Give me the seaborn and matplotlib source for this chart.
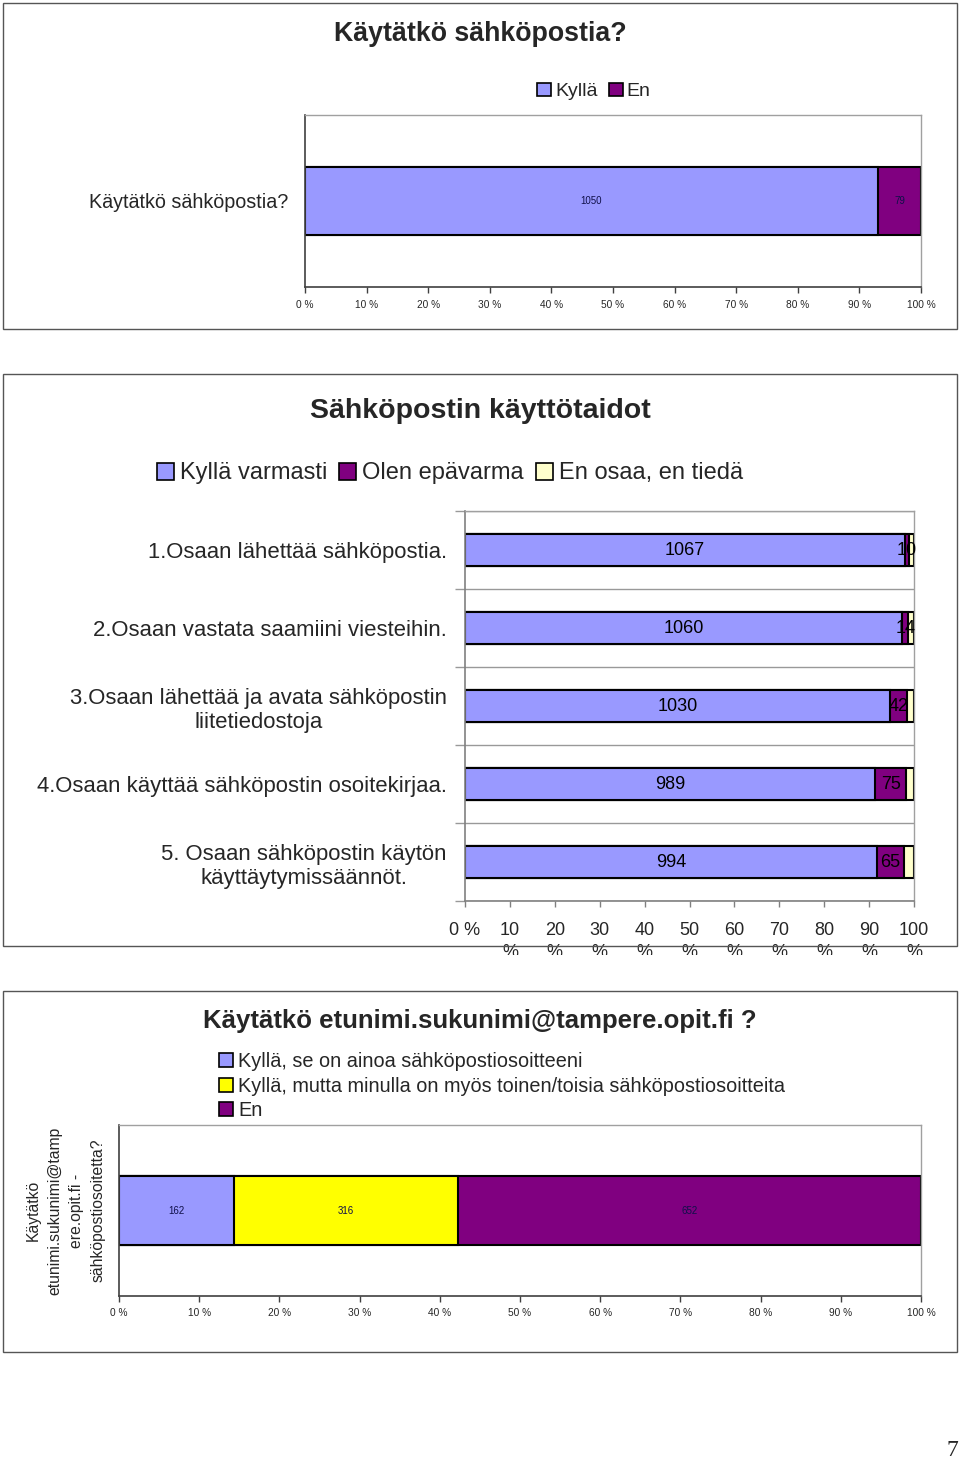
import numpy as np
import pandas as pd
import matplotlib
matplotlib.use('Agg')
import matplotlib.pyplot as plt
import seaborn as sns
from matplotlib.patches import Patch, Rectangle

sns.set_theme(style='white')
plt.rcParams['font.family'] = ['Liberation Sans', 'DejaVu Sans']

# ---------------- data ----------------
# Chart 1
q1_title = 'Käytätkö sähköpostia?'
q1_categories = ['Käytätkö sähköpostia?']
q1_series = ['Kyllä', 'En']
q1_kylla = [1050]
q1_en = [79]

# Chart 2
q2_title = 'Sähköpostin käyttötaidot'
q2_categories = ['1.Osaan lähettää sähköpostia.',
                 '2.Osaan vastata saamiini viesteihin.',
                 '3.Osaan lähettää ja avata sähköpostin\nliitetiedostoja',
                 '4.Osaan käyttää sähköpostin osoitekirjaa.',
                 '5. Osaan sähköpostin käytön\nkäyttäytymissäännöt.']
q2_series = ['Kyllä varmasti', 'Olen epävarma', 'En osaa, en tiedä']
q2_varmasti = [1067, 1060, 1030, 989, 994]
q2_epavarma = [10, 14, 42, 75, 65]
q2_en_osaa = [12, 14, 16, 19, 25]

# Chart 3
q3_title = 'Käytätkö etunimi.sukunimi@tampere.opit.fi ?'
q3_categories = ['Käytätkö\netunimi.sukunimi@tamp\nere.opit.fi -\nsähköpostiosoitetta?']
q3_series = ['Kyllä, se on ainoa sähköpostiosoitteeni',
             'Kyllä, mutta minulla on myös toinen/toisia sähköpostiosoitteita',
             'En']
q3_ainoa = [162]
q3_myos_toinen = [316]
q3_en = [652]

pct_ticks = [0, 10, 20, 30, 40, 50, 60, 70, 80, 90, 100]
pct_labels_small = [f'{t} %' for t in pct_ticks]
pct_labels_wrapped = ['0 %'] + [f'{t}\n%' for t in pct_ticks[1:]]

# ---------------- style ----------------
BLUE = '#9999FF'
PURPLE = '#800080'
LIGHTYELLOW = '#FFFFCC'
YELLOW = '#FFFF00'

W, H = 960, 1463
fig = plt.figure(figsize=(W / 100, H / 100), dpi=100)


def fx(px):
    return px / W


def fy(py):
    return 1 - py / H


def add_axes(x0, y0, x1, y1):
    return fig.add_axes([fx(x0), fy(y1), fx(x1 - x0), (y1 - y0) / H])


def stacked(ax, cats, series_vals, colors, width=0.4, lw=1.5):
    vals = np.array(series_vals, dtype=float)
    tot = vals.sum(axis=0)
    pct = vals / tot * 100
    cum = np.cumsum(pct, axis=0)
    for i in range(len(vals) - 1, -1, -1):
        df = pd.DataFrame({'cat': cats, 'v': cum[i]})
        sns.barplot(data=df, x='v', y='cat', order=cats, orient='h',
                    color=colors[i], saturation=1, width=width,
                    edgecolor='black', linewidth=lw, errorbar=None, ax=ax)
    return vals, pct, cum


def style_axes(ax, dark, light):
    for s in ['left', 'bottom']:
        ax.spines[s].set_color(dark)
        ax.spines[s].set_linewidth(1.2)
    for s in ['top', 'right']:
        ax.spines[s].set_color(light)
        ax.spines[s].set_linewidth(1.0)
    ax.set_xlim(0, 100)
    ax.set_xlabel('')
    ax.set_ylabel('')


def panel_border(x0, y0, x1, y1):
    fig.patches.append(Rectangle((fx(x0), fy(y1)), fx(x1 - x0), (y1 - y0) / H,
                                 transform=fig.transFigure, fill=False,
                                 edgecolor='#555555', linewidth=1.0, zorder=5))


# ---------------- panel 1 ----------------
panel_border(3, 3, 957, 329)
fig.text(0.5, fy(34), q1_title, ha='center', va='center',
         fontsize=19.3, fontweight='bold')
ax1 = add_axes(305, 115, 921, 287)
vals, pct, cum = stacked(ax1, q1_categories, [q1_kylla, q1_en], [BLUE, PURPLE])
style_axes(ax1, '#404040', '#a0a0a0')
ax1.set_xticks(pct_ticks)
ax1.set_xticklabels(pct_labels_small, fontsize=7.3)
ax1.tick_params(axis='x', length=4, width=1, color='#404040', pad=5, bottom=True)
ax1.tick_params(axis='y', length=0, pad=12, labelsize=14.2)
for i in range(vals.shape[0]):
    for j in range(vals.shape[1]):
        ax1.text(cum[i, j] - pct[i, j] / 2, j, f'{int(vals[i, j])}',
                 ha='center', va='center', fontsize=7, color='#10104a')
fig.legend(handles=[Patch(facecolor=c, edgecolor='black', linewidth=1.2) for c in [BLUE, PURPLE]],
           labels=q1_series, loc='center', bbox_to_anchor=(fx(594), fy(91.5)), ncol=2,
           frameon=False, fontsize=14, handlelength=0.7, handleheight=0.7,
           handletextpad=0.2, columnspacing=0.6, borderaxespad=0, borderpad=0)

# ---------------- panel 2 ----------------
panel_border(3, 374, 957, 946)
fig.text(fx(480), fy(411), q2_title, ha='center', va='center',
         fontsize=20.5, fontweight='bold')
ax2 = add_axes(465, 511, 914, 901)
vals, pct, cum = stacked(ax2, q2_categories, [q2_varmasti, q2_epavarma, q2_en_osaa],
                         [BLUE, PURPLE, LIGHTYELLOW])
style_axes(ax2, '#808080', '#a0a0a0')
ax2.set_xticks(pct_ticks)
ax2.set_xticklabels(pct_labels_wrapped, fontsize=13, linespacing=1.4)
ax2.tick_params(axis='x', length=4, width=1, color='#808080', pad=11, bottom=True)
ax2.set_yticks(np.arange(-0.5, len(q2_categories)), minor=True)
ax2.tick_params(axis='y', which='minor', length=7, width=1, color='#999999', left=True)
ax2.tick_params(axis='y', which='major', length=0, pad=13, labelsize=15.9)
for lbl in ax2.get_yticklabels():
    lbl.set_multialignment('center')
ax2.grid(True, axis='y', which='minor', color='#999999', linewidth=1.0)
ax2.set_axisbelow(True)
for i in range(2):
    for j in range(vals.shape[1]):
        ax2.text(cum[i, j] - pct[i, j] / 2, j, f'{int(vals[i, j])}',
                 ha='center', va='center', fontsize=13, color='black')
fig.legend(handles=[Patch(facecolor=c, edgecolor='black', linewidth=1.2)
                    for c in [BLUE, PURPLE, LIGHTYELLOW]],
           labels=q2_series, loc='center', bbox_to_anchor=(fx(450), fy(473.5)), ncol=3,
           frameon=False, fontsize=17, handlelength=0.72, handleheight=0.72,
           handletextpad=0.25, columnspacing=0.5, borderaxespad=0, borderpad=0)
# clip the overflowing tick labels below the panel as in the original
fig.patches.append(Rectangle((0, fy(988)), 1, (988 - 955) / H, transform=fig.transFigure,
                             facecolor='white', edgecolor='none', zorder=4))

# ---------------- panel 3 ----------------
panel_border(3, 991, 957, 1352)
fig.text(fx(480), fy(1021), q3_title, ha='center', va='center',
         fontsize=18.5, fontweight='bold')
ax3 = add_axes(119, 1125, 921, 1296)
vals, pct, cum = stacked(ax3, q3_categories, [q3_ainoa, q3_myos_toinen, q3_en],
                         [BLUE, YELLOW, PURPLE])
style_axes(ax3, '#404040', '#a0a0a0')
ax3.set_xticks(pct_ticks)
ax3.set_xticklabels(pct_labels_small, fontsize=7.3)
ax3.tick_params(axis='x', length=4, width=1, color='#404040', pad=5, bottom=True)
ax3.set_yticks([0])
ax3.set_yticklabels([''])
ax3.tick_params(axis='y', length=0)
ax3.set_ylabel(q3_categories[0], fontsize=11.3, linespacing=1.55, labelpad=6.5,
               multialignment='center')
for i in range(vals.shape[0]):
    for j in range(vals.shape[1]):
        ax3.text(cum[i, j] - pct[i, j] / 2, j, f'{int(vals[i, j])}',
                 ha='center', va='center', fontsize=7, color='#10104a')
fig.legend(handles=[Patch(facecolor=c, edgecolor='black', linewidth=1.2)
                    for c in [BLUE, YELLOW, PURPLE]],
           labels=q3_series, loc='upper left', bbox_to_anchor=(fx(219), fy(1052)), ncol=1,
           frameon=False, fontsize=14.3, handlelength=0.72, handleheight=0.72,
           handletextpad=0.25, labelspacing=0.28, borderaxespad=0, borderpad=0)

# page number
fig.text(fx(958), fy(1461), '7', ha='right', va='bottom', fontsize=17,
         family=['Liberation Serif', 'DejaVu Serif'])

fig.savefig('out.png', dpi=100)
